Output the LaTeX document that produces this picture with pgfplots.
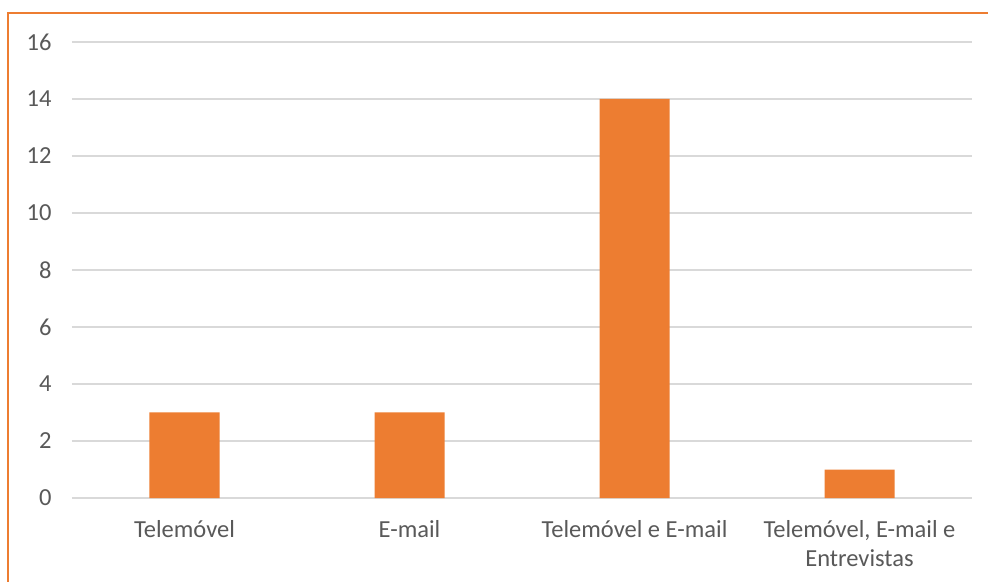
\documentclass[border=0pt]{standalone}
\usepackage{pgfplots}
\pgfplotsset{compat=1.18}
\usepackage{fontspec}
\setmainfont{Carlito}
\definecolor{barorange}{HTML}{ED7D31}
\definecolor{txtgray}{HTML}{595959}
\definecolor{gridgray}{HTML}{D9D9D9}
\begin{document}
\begin{tikzpicture}
\path[use as bounding box, fill=white] (-72bp,-84bp) rectangle (916bp,498bp);
\draw[barorange, line width=2bp] (-64bp,-84bp) -- (-64bp,485bp) -- (916bp,485bp);
\begin{axis}[
    at={(0,0)}, anchor=south west,
    scale only axis,
    width=900bp, height=456bp,
    xmin=-0.5, xmax=3.5,
    ymin=0, ymax=16,
    ytick={0,2,...,16},
    xtick={0,1,2,3},
    xticklabels={Telemóvel, E-mail, Telemóvel e E-mail, {Telemóvel, E-mail e\\Entrevistas}},
    axis line style={draw=none},
    major tick length=0pt,
    ymajorgrids,
    major grid style={gridgray, line width=1.5bp},
    tick label style={font=\fontsize{24.5bp}{29bp}\selectfont, text=txtgray},
    xticklabel style={align=center, yshift=-19bp},
    yticklabel style={xshift=-17bp},
    /pgf/number format/assume math mode=true,
]
\addplot[ybar, bar width=70bp, fill=barorange, draw=none] coordinates {
    (0,3) (1,3) (2,14) (3,1)
};
\end{axis}
\end{tikzpicture}
\end{document}
